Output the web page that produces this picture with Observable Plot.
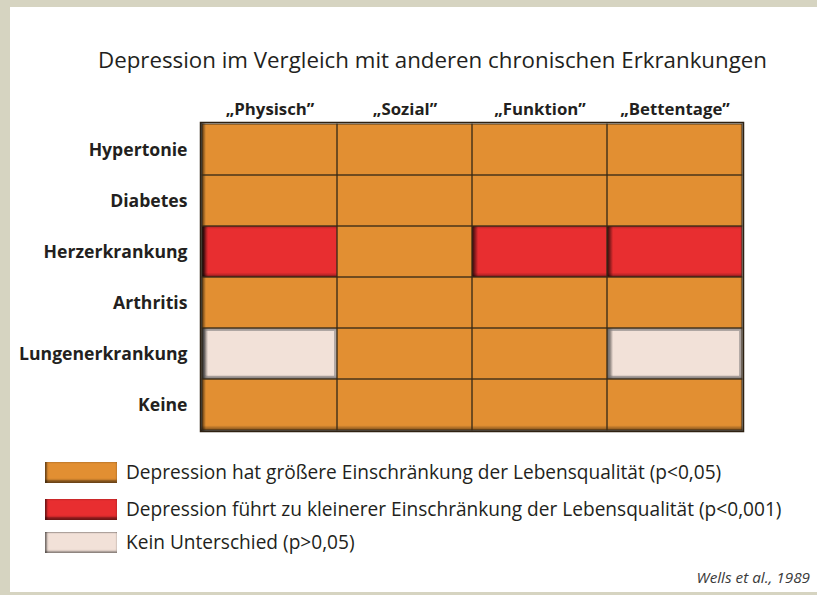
<!DOCTYPE html>
<html>
<head>
<meta charset="utf-8">
<script src="https://cdn.jsdelivr.net/npm/d3@7"></script>
<script src="https://cdn.jsdelivr.net/npm/@observablehq/plot@0.6"></script>
<style>
  html, body { margin: 0; padding: 0; }
  body { width: 817px; height: 595px; background: #d6d4c1; position: relative; overflow: hidden; font-family: "Open Sans", "Noto Sans", sans-serif; color: #231f20; }
  #panel { position: absolute; left: 10px; top: 7px; width: 807px; height: 585px; background: #fff; }
  #chart { position: absolute; left: 0; top: 0; }
  #title { position: absolute; left: 0; width: 845px; top: 38px; line-height: 30px; text-align: center; font-size: 22.3px; white-space: nowrap; }
  .leg { position: absolute; left: 35px; height: 22px; display: flex; align-items: center; font-size: 19.1px; white-space: nowrap; }
  .sw { width: 72px; height: 21px; margin-right: 9px; box-sizing: border-box; flex: none; }
  #cite { position: absolute; right: 7px; top: 560px; font-style: italic; font-size: 15.3px; color: #3a3a3a; }
</style>
</head>
<body>
<div id="panel">
  <div id="chart"></div>
  <div id="title"></div>
  <div id="legend"></div>
  <div id="cite"></div>
</div>
<script>
const titleText = "Depression im Vergleich mit anderen chronischen Erkrankungen";
const columns = ["„Physisch”", "„Sozial”", "„Funktion”", "„Bettentage”"];
const rows = ["Hypertonie", "Diabetes", "Herzerkrankung", "Arthritis", "Lungenerkrankung", "Keine"];
// category per row, one entry per column: G = größere, K = kleinere, N = kein Unterschied
const Hypertonie = ["G", "G", "G", "G"];
const Diabetes = ["G", "G", "G", "G"];
const Herzerkrankung = ["K", "G", "K", "K"];
const Arthritis = ["G", "G", "G", "G"];
const Lungenerkrankung = ["N", "G", "G", "N"];
const Keine = ["G", "G", "G", "G"];
const categories = ["G", "K", "N"];
const categoryLabels = [
  "Depression hat größere Einschränkung der Lebensqualität (p<0,05)",
  "Depression führt zu kleinerer Einschränkung der Lebensqualität (p<0,001)",
  "Kein Unterschied (p>0,05)"
];
const categoryColors = ["#e28f32", "#e82e30", "#f2e1d8"];
const citation = "Wells et al., 1989";

const matrix = [Hypertonie, Diabetes, Herzerkrankung, Arthritis, Lungenerkrankung, Keine];
const cells = [];
rows.forEach((r, i) => columns.forEach((c, j) => cells.push({row: r, col: c, cat: matrix[i][j]})));
const special = cells.filter(d => d.cat !== "G");
const pink = cells.filter(d => d.cat === "N");

const plot = Plot.plot({
  width: 807,
  height: 585,
  marginLeft: 190,
  marginRight: 74,
  marginTop: 115,
  marginBottom: 161,
  style: {fontFamily: "'Open Sans', 'Noto Sans', sans-serif", color: "#231f20", background: "transparent"},
  x: {domain: columns, padding: 0, label: null},
  y: {domain: rows, padding: 0, label: null},
  color: {domain: categories, range: categoryColors},
  marks: [
    Plot.cell(cells, {x: "col", y: "row", fill: "cat"}),
    Plot.cell(special, {x: "col", y: "row", fill: "url(#cL)"}),
    Plot.cell(special, {x: "col", y: "row", fill: "url(#cB)"}),
    Plot.cell(special, {x: "col", y: "row", fill: "url(#cT)"}),
    Plot.cell(pink, {x: "col", y: "row", fill: "none", stroke: "#8a8686", strokeWidth: 3, inset: 1.5, strokeOpacity: 0.6}),
    Plot.frame({fill: "url(#fL)"}),
    Plot.frame({fill: "url(#fB)"}),
    Plot.frame({fill: "url(#fR)"}),
    Plot.cell(cells, {x: "col", y: "row", fill: "none", stroke: "#3a2a18", strokeWidth: 1, strokeOpacity: 0.85}),
    Plot.frame({stroke: "#2e2112", strokeWidth: 1.5}),
    Plot.axisX({anchor: "top", tickSize: 0, tickPadding: 8, fontSize: 16.8, fontWeight: "bold", label: null}),
    Plot.axisY({anchor: "left", tickSize: 0, tickPadding: 13, fontSize: 17.6, fontWeight: "bold", label: null})
  ]
});

// gradient definitions for the bevelled shading
const defs = d3.select(plot).insert("defs", ":first-child");
function grad(id, x1, y1, x2, y2, stops) {
  const g = defs.append("linearGradient").attr("id", id)
    .attr("x1", x1).attr("y1", y1).attr("x2", x2).attr("y2", y2);
  stops.forEach(([o, c, a]) => g.append("stop").attr("offset", o).attr("stop-color", c).attr("stop-opacity", a));
}
grad("cL", 0, 0, 1, 0, [[0, "#000", 0.8], [0.015, "#000", 0.55], [0.045, "#000", 0]]);
grad("cB", 0, 1, 0, 0, [[0, "#000", 0.55], [0.05, "#000", 0.15], [0.09, "#000", 0]]);
grad("cT", 0, 0, 0, 1, [[0, "#000", 0.25], [0.06, "#000", 0]]);
grad("fL", 0, 0, 1, 0, [[0, "#000", 0.8], [0.004, "#000", 0.5], [0.01, "#000", 0]]);
grad("fB", 0, 1, 0, 0, [[0, "#000", 0.75], [0.008, "#000", 0.35], [0.02, "#000", 0]]);
grad("fR", 1, 0, 0, 0, [[0, "#777", 0.8], [0.003, "#555", 0.3], [0.006, "#000", 0]]);

document.getElementById("chart").appendChild(plot);
document.getElementById("title").textContent = titleText;
document.getElementById("cite").textContent = citation;

const legendTops = [454, 491, 524];
const legend = document.getElementById("legend");
categories.forEach((c, i) => {
  const row = document.createElement("div");
  row.className = "leg";
  row.style.top = legendTops[i] + "px";
  const sw = document.createElement("div");
  sw.className = "sw";
  sw.style.background = categoryColors[i];
  sw.style.boxShadow = c === "N"
    ? "inset 2px 0 2px rgba(0,0,0,0.45), inset 0 -2px 2px rgba(0,0,0,0.35), inset 0 1px 1px rgba(0,0,0,0.2)"
    : "inset 2px 0 2px rgba(0,0,0,0.45), inset 0 -3px 2px rgba(0,0,0,0.45)";
  const tx = document.createElement("span");
  tx.textContent = categoryLabels[i];
  row.appendChild(sw);
  row.appendChild(tx);
  legend.appendChild(row);
});
</script>
</body>
</html>
